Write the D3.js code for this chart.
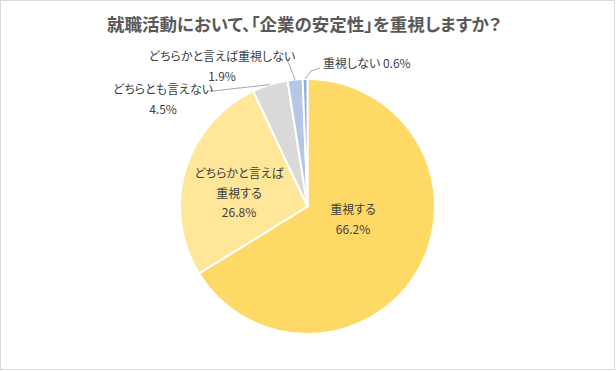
<!DOCTYPE html>
<html>
<head>
<meta charset="utf-8">
<script src="https://cdn.jsdelivr.net/npm/d3@7"></script>
<style>
  body { margin: 0; background: #fff; }
  svg { display: block; font-family: "Noto Sans CJK JP", "Noto Sans", sans-serif; }
  text { font-feature-settings: "palt" 1; }
</style>
</head>
<body>
<svg id="chart" width="616" height="371"></svg>
<script>
// --- DATA ---
const categories = ["重視する", "どちらかと言えば重視する", "どちらとも言えない", "どちらかと言えば重視しない", "重視しない"];
const values = [66.2, 26.8, 4.5, 1.9, 0.6];
const colors = ["#FFD966", "#FFE699", "#D9D9D9", "#B4C7E7", "#8FAADC"];
const title = "就職活動において、「企業の安定性」を重視しますか？";

// --- LAYOUT ---
const W = 616, H = 371;
const cx = 307.5, cy = 206.5, R = 127.5;

// label placement: lines of text, anchor, optional leader elbow
const labelLayout = [
  { lines: ["重視する", "66.2%"], x: 353, y: 214, anchor: "middle" },
  { lines: ["どちらかと言えば", "重視する", "26.8%"], x: 239, y: 178, anchor: "middle" },
  { lines: ["どちらとも言えない", "4.5%"], x: 163, y: 94, anchor: "middle", leader: [[207, 91], [212, 91]] },
  { lines: ["どちらかと言えば重視しない", "1.9%"], x: 222, y: 61, anchor: "middle", leader: [[286, 58], [289, 64]] },
  { lines: ["重視しない 0.6%"], x: 323, y: 68, anchor: "start", leader: [[320, 68], [311, 71]] }
];

const svg = d3.select("#chart");

svg.append("rect")
  .attr("x", 0.5).attr("y", 0.5)
  .attr("width", W - 2).attr("height", H - 2)
  .attr("fill", "#fff").attr("stroke", "#d9d9d9");

svg.append("text")
  .attr("x", 304).attr("y", 31)
  .attr("text-anchor", "middle")
  .attr("fill", "#595959")
  .attr("font-size", 17.5)
  .attr("font-weight", "bold")
  .text(title);

const pie = d3.pie().sort(null).value(d => d)(values);
const arc = d3.arc().innerRadius(0).outerRadius(R);

const g = svg.append("g").attr("transform", `translate(${cx},${cy})`);

g.selectAll("path.slice")
  .data(pie).join("path")
  .attr("class", "slice")
  .attr("d", arc)
  .attr("fill", (d, i) => colors[i])
  .attr("stroke", "#fff")
  .attr("stroke-width", 2)
  .attr("stroke-linejoin", "round");

// leader lines
labelLayout.forEach((l, i) => {
  if (!l.leader) return;
  const a = (pie[i].startAngle + pie[i].endAngle) / 2;
  const end = [cx + R * Math.sin(a), cy - R * Math.cos(a)];
  svg.append("path")
    .attr("d", d3.line()([...l.leader, end]))
    .attr("fill", "none")
    .attr("stroke", "#a6a6a6")
    .attr("stroke-width", 1);
});

// labels
labelLayout.forEach(l => {
  const t = svg.append("text")
    .attr("text-anchor", l.anchor)
    .attr("fill", "#404040")
    .attr("font-size", 12);
  l.lines.forEach((s, k) => {
    t.append("tspan").attr("x", l.x).attr("y", l.y + k * 19.5).text(s);
  });
});
</script>
</body>
</html>
